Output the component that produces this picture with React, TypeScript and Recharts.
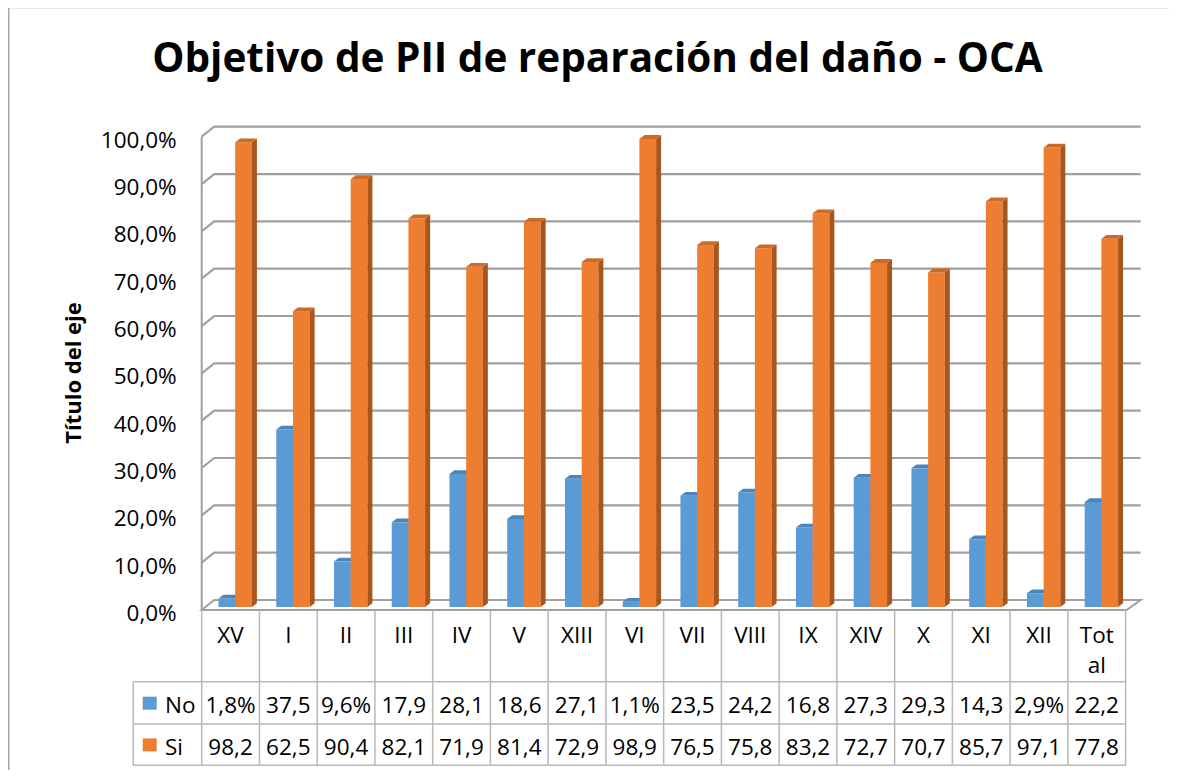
import React from 'react';
import { BarChart, Bar, XAxis, YAxis, CartesianGrid } from 'recharts';

const categories = ['XV', 'I', 'II', 'III', 'IV', 'V', 'XIII', 'VI', 'VII', 'VIII', 'IX', 'XIV', 'X', 'XI', 'XII', 'Total'];
const noValues = [1.8, 37.5, 9.6, 17.9, 28.1, 18.6, 27.1, 1.1, 23.5, 24.2, 16.8, 27.3, 29.3, 14.3, 2.9, 22.2];
const siValues = [98.2, 62.5, 90.4, 82.1, 71.9, 81.4, 72.9, 98.9, 76.5, 75.8, 83.2, 72.7, 70.7, 85.7, 97.1, 77.8];
const yTicks = [0, 10, 20, 30, 40, 50, 60, 70, 80, 90, 100];
const seriesNames = ['No', 'Si'];
const title = 'Objetivo de PII de reparación del daño - OCA';
const yTitle = 'Título del eje';

const data = categories.map((cat, i) => ({ cat, No: noValues[i], Si: siValues[i] }));

const FONT = "'Open Sans', sans-serif";
const W = 1169;
const H = 764;
const PLOT_L = 193.7;
const PLOT_R = 1117.6;
const PLOT_T = 127.7;
const PLOT_B = 601;
const YAXIS_W = 80;
const XAXIS_H = 30;
const BAND = (PLOT_R - PLOT_L) / categories.length;

const BLUE = '#5B9BD5';
const ORANGE = '#ED7D31';
const GRID = '#A0A0A0';
const TABLE = '#B8B8B8';

const ROW1 = 675.7;
const ROW2 = 718;
const ROW3 = 759.3;
const FLOOR_FRONT = PLOT_B + 3;

const fmt = (v: number) => v.toFixed(1).replace('.', ',') + '%';
const fit = (s: string) => (s.length > 4 ? s.slice(0, 4) : s);
const wrapLabel = (s: string) => (s.length > 4 ? [s.slice(0, 3), s.slice(3)] : [s]);

const makeBar3D = (front: string, top: string, side: string) => (props: any) => {
  const { x, y, width, height } = props;
  if (width == null || height == null) return <g />;
  const dx = 4.8;
  const d = 5;
  const dz = 3.8;
  const x0 = x + dx;
  const x1 = x0 + width;
  const y0 = y;
  const y1 = y + height;
  return (
    <g>
      <rect x={x0} y={y0} width={width} height={height} fill={front} />
      <polygon points={`${x1},${y0} ${x1 + d},${y0 - dz} ${x1 + d},${y1 - dz} ${x1},${y1}`} fill={side} />
      <polygon points={`${x0},${y0} ${x1},${y0} ${x1 + d},${y0 - dz} ${x0 + d},${y0 - dz}`} fill={top} />
    </g>
  );
};

const BlueBar = makeBar3D(BLUE, '#4A85BD', '#3E6F9E');
const OrangeBar = makeBar3D(ORANGE, '#CF6A24', '#A9561C');

const GridLine = (props: any) => {
  const { y1 } = props;
  const isFloor = Math.abs(y1 - PLOT_B) < 0.5;
  const bx = PLOT_L + 12.5;
  const rx = PLOT_R + 15;
  if (isFloor) {
    return (
      <g>
        <line x1={PLOT_L} y1={PLOT_T + 3} x2={PLOT_L} y2={y1 + 3} stroke={GRID} strokeWidth={2} />
        <polygon
          points={`${PLOT_L},${y1 + 3} ${PLOT_R + 1},${y1 + 3} ${rx},${y1 - 7} ${bx},${y1 - 7}`}
          fill="none"
          stroke={GRID}
          strokeWidth={2}
        />
      </g>
    );
  }
  return (
    <path d={`M${PLOT_L},${y1 + 3} L${bx},${y1 - 7} L${rx},${y1 - 7}`} fill="none" stroke={GRID} strokeWidth={2.2} />
  );
};

const YTick = (props: any) => {
  const { x, y, payload } = props;
  return (
    <text x={x} y={y + 14} textAnchor="end" fontFamily={FONT} fontSize={22.5} fill="#000">
      {fmt(payload.value)}
    </text>
  );
};

const TableTick = (props: any) => {
  const { x, payload } = props;
  const i = payload.index;
  const left = x - BAND / 2;
  const right = x + BAND / 2;
  const lines = wrapLabel(String(payload.value));
  return (
    <g fontFamily={FONT} fontSize={22.5} fill="#000">
      {i === 0 && (
        <g>
          <line x1={left} y1={FLOOR_FRONT} x2={left} y2={ROW3} stroke={TABLE} strokeWidth={1.5} />
          <line x1={125.3} y1={ROW1} x2={125.3} y2={ROW3} stroke={TABLE} strokeWidth={1.5} />
          <line x1={125.3} y1={ROW1} x2={left} y2={ROW1} stroke={TABLE} strokeWidth={1.5} />
          <line x1={125.3} y1={ROW2} x2={left} y2={ROW2} stroke={TABLE} strokeWidth={1.5} />
          <line x1={125.3} y1={ROW3} x2={left} y2={ROW3} stroke={TABLE} strokeWidth={1.5} />
          <rect x={134.7} y={690.7} width={14} height={13} fill={BLUE} />
          <text x={157} y={707.3}>{seriesNames[0]}</text>
          <rect x={134.7} y={732.4} width={14} height={13} fill={ORANGE} />
          <text x={157} y={749}>{seriesNames[1]}</text>
        </g>
      )}
      <line x1={right} y1={FLOOR_FRONT} x2={right} y2={ROW3} stroke={TABLE} strokeWidth={1.5} />
      <line x1={left} y1={ROW1} x2={right} y2={ROW1} stroke={TABLE} strokeWidth={1.5} />
      <line x1={left} y1={ROW2} x2={right} y2={ROW2} stroke={TABLE} strokeWidth={1.5} />
      <line x1={left} y1={ROW3} x2={right} y2={ROW3} stroke={TABLE} strokeWidth={1.5} />
      {lines.map((l, k) => (
        <text key={k} x={x} y={637.3 + k * 30} textAnchor="middle">
          {l}
        </text>
      ))}
      <text x={x} y={707.3} textAnchor="middle">{fit(fmt(noValues[i]))}</text>
      <text x={x} y={749} textAnchor="middle">{fit(fmt(siValues[i]))}</text>
    </g>
  );
};

export default function App() {
  return (
    <div style={{ width: W, height: H, marginTop: -2, overflow: 'hidden' }}>
      <BarChart
        width={W}
        height={H}
        data={data}
        margin={{ top: PLOT_T, right: W - PLOT_R, bottom: H - PLOT_B - XAXIS_H, left: PLOT_L - YAXIS_W }}
        barGap={0}
        barSize={16.7}
        style={{ background: '#fff' }}
      >
        <line x1={0.75} y1={1.5} x2={W} y2={1.5} stroke="#A6A6A6" strokeWidth={1.5} />
        <line x1={0.75} y1={1.5} x2={0.75} y2={H} stroke="#A6A6A6" strokeWidth={1.5} />
        <text x={589.5} y={66} textAnchor="middle" fontFamily={FONT} fontWeight="bold" fontSize={40.5} fill="#000">
          {title}
        </text>
        <text
          x={64}
          y={367}
          transform="rotate(-90 64 367)"
          textAnchor="middle"
          dominantBaseline="central"
          fontFamily={FONT}
          fontWeight="bold"
          fontSize={22}
          fill="#000"
        >
          {yTitle}
        </text>
        <CartesianGrid vertical={false} horizontal={GridLine} />
        <XAxis
          dataKey="cat"
          interval={0}
          axisLine={false}
          tickLine={false}
          height={XAXIS_H}
          tick={TableTick}
        />
        <YAxis
          width={YAXIS_W}
          domain={[0, 100]}
          ticks={yTicks}
          axisLine={false}
          tickLine={false}
          tickSize={0}
          tickMargin={25}
          tick={YTick}
        />
        <Bar dataKey="No" fill={BLUE} shape={BlueBar} isAnimationActive={false} />
        <Bar dataKey="Si" fill={ORANGE} shape={OrangeBar} isAnimationActive={false} />
      </BarChart>
    </div>
  );
}
